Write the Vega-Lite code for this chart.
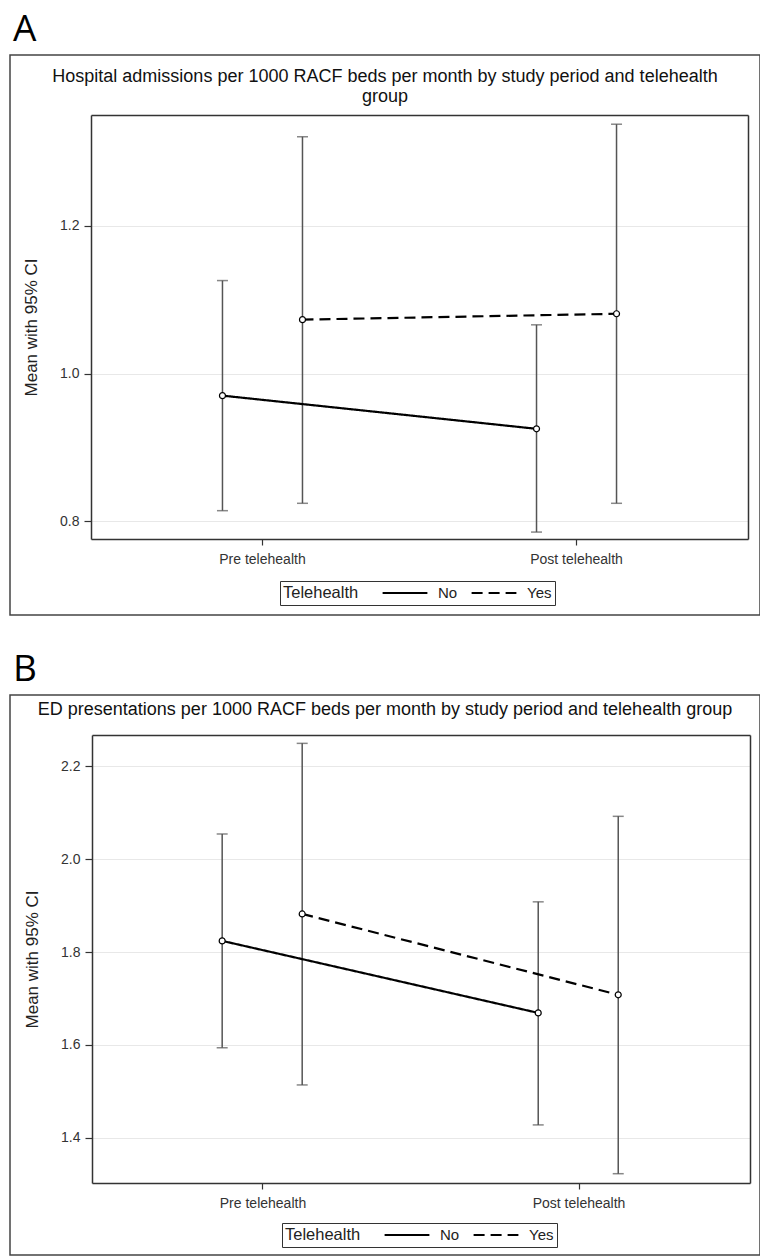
{
  "$schema": "https://vega.github.io/schema/vega-lite/v6.json",
  "padding": {"left": 9, "top": 11, "right": 0, "bottom": 0},
  "background": "white",
  "datasets": {
    "hosp": [
      {"period": "Pre telehealth", "group": "No", "mean": 0.970, "lower": 0.814, "upper": 1.126},
      {"period": "Pre telehealth", "group": "Yes", "mean": 1.073, "lower": 0.824, "upper": 1.321},
      {"period": "Post telehealth", "group": "No", "mean": 0.925, "lower": 0.785, "upper": 1.066},
      {"period": "Post telehealth", "group": "Yes", "mean": 1.081, "lower": 0.824, "upper": 1.338}
    ],
    "ed": [
      {"period": "Pre telehealth", "group": "No", "mean": 1.824, "lower": 1.594, "upper": 2.054},
      {"period": "Pre telehealth", "group": "Yes", "mean": 1.882, "lower": 1.514, "upper": 2.249},
      {"period": "Post telehealth", "group": "No", "mean": 1.669, "lower": 1.428, "upper": 1.908},
      {"period": "Post telehealth", "group": "Yes", "mean": 1.708, "lower": 1.323, "upper": 2.092}
    ]
  },
  "spacing": 35,
  "resolve": {"scale": {"strokeDash": "independent"}, "legend": {"strokeDash": "independent"}},
  "vconcat": [
    {
      "title": {"text": "A", "anchor": "start", "fontSize": 37, "font": "Open Sans", "fontWeight": "normal", "offset": 5, "dx": 3, "color": "black", "frame": "group"},
      "vconcat": [
        {
          "width": 750,
          "height": 560,
          "data": {"name": "hosp"},
          "title": {"text": ["Hospital admissions per 1000 RACF beds per month by study period and telehealth", "group"], "fontSize": 18, "fontWeight": "normal", "lineHeight": 20, "offset": -51, "anchor": "middle", "frame": "group", "color": "#111"},
          "layer": [
            {
              "mark": {"type": "rule", "color": "#555", "strokeWidth": 1.5},
              "encoding": {
                "x": {"field": "period", "type": "nominal", "sort": ["Pre telehealth", "Post telehealth"],
                      "scale": {"range": [81, 738], "paddingInner": 0.2, "paddingOuter": 0.146},
                      "axis": {"orient": "bottom", "offset": -76, "title": null, "labelAngle": 0, "tickSize": 6, "labelPadding": 7, "grid": false}},
                "xOffset": {"field": "group", "type": "nominal", "sort": ["No", "Yes"], "scale": {"paddingInner": 0, "paddingOuter": 0.57}},
                "y": {"field": "lower", "type": "quantitative",
                      "scale": {"domain": [0.7756, 1.3505], "range": [484, 60], "zero": false, "nice": false},
                      "axis": {"orient": "left", "offset": -81, "title": "Mean with 95% CI", "values": [0.8, 1.0, 1.2], "format": ".1f", "grid": true, "tickSize": 7, "labelPadding": 5, "titlePadding": 19}},
                "y2": {"field": "upper"}
              }
            },
            {
              "mark": {"type": "tick", "orient": "horizontal", "color": "#555", "size": 11, "thickness": 1.5},
              "encoding": {
                "x": {"field": "period", "type": "nominal", "sort": ["Pre telehealth", "Post telehealth"],
                      "axis": {"orient": "top", "offset": -60, "title": null, "ticks": false, "labels": false, "grid": false, "domain": true}},
                "xOffset": {"field": "group", "type": "nominal", "sort": ["No", "Yes"]},
                "y": {"field": "lower", "type": "quantitative",
                      "axis": {"orient": "right", "offset": -12, "title": null, "ticks": false, "labels": false, "grid": false, "domain": true}}
              }
            },
            {
              "mark": {"type": "tick", "orient": "horizontal", "color": "#555", "size": 11, "thickness": 1.5},
              "encoding": {
                "x": {"field": "period", "type": "nominal", "sort": ["Pre telehealth", "Post telehealth"], "axis": null},
                "xOffset": {"field": "group", "type": "nominal", "sort": ["No", "Yes"]},
                "y": {"field": "upper", "type": "quantitative", "axis": null}
              }
            },
            {
              "mark": {"type": "line", "color": "black", "strokeWidth": 2.2},
              "encoding": {
                "x": {"field": "period", "type": "nominal", "sort": ["Pre telehealth", "Post telehealth"], "axis": null},
                "xOffset": {"field": "group", "type": "nominal", "sort": ["No", "Yes"]},
                "y": {"field": "mean", "type": "quantitative", "axis": null},
                "strokeDash": {"field": "group", "type": "nominal", "scale": {"domain": ["No", "Yes"], "range": [[1, 0], [11, 6]]},
                  "legend": {"title": "Telehealth", "orient": "none", "legendX": 270, "legendY": 526, "direction": "horizontal", "titleOrient": "left", "strokeColor": "#333", "padding": 3, "symbolType": "M-2.8,0H2.8", "symbolSize": 256, "symbolStrokeWidth": 2, "symbolStrokeColor": "black", "symbolFillColor": "transparent", "labelFontSize": 15, "titleFontSize": 16.5, "titleFontWeight": "normal", "labelOffset": 24, "columnPadding": 9, "titlePadding": 37, "labelColor": "#222", "titleColor": "#222"}}
              }
            },
            {
              "mark": {"type": "circle", "fill": "white", "stroke": "black", "strokeWidth": 1.2, "size": 36, "opacity": 1},
              "encoding": {
                "x": {"field": "period", "type": "nominal", "sort": ["Pre telehealth", "Post telehealth"], "axis": null},
                "xOffset": {"field": "group", "type": "nominal", "sort": ["No", "Yes"]},
                "y": {"field": "mean", "type": "quantitative", "axis": null}
              }
            }
          ],
          "resolve": {"axis": {"x": "independent", "y": "independent"}}
        }
      ]
    },
    {
      "title": {"text": "B", "anchor": "start", "fontSize": 37, "font": "Open Sans", "fontWeight": "normal", "offset": 5, "dx": 3, "color": "black", "frame": "group"},
      "vconcat": [
        {
          "width": 750,
          "height": 560,
          "data": {"name": "ed"},
          "title": {"text": "ED presentations per 1000 RACF beds per month by study period and telehealth group", "fontSize": 18, "fontWeight": "normal", "offset": -24, "anchor": "middle", "frame": "group", "color": "#111"},
          "layer": [
            {
              "mark": {"type": "rule", "color": "#555", "strokeWidth": 1.5},
              "encoding": {
                "x": {"field": "period", "type": "nominal", "sort": ["Pre telehealth", "Post telehealth"],
                      "scale": {"range": [82, 740], "paddingInner": 0.2, "paddingOuter": 0.141},
                      "axis": {"orient": "bottom", "offset": -72, "title": null, "labelAngle": 0, "tickSize": 6, "labelPadding": 7, "grid": false}},
                "xOffset": {"field": "group", "type": "nominal", "sort": ["No", "Yes"], "scale": {"paddingInner": 0, "paddingOuter": 0.58}},
                "y": {"field": "lower", "type": "quantitative",
                      "scale": {"domain": [1.303, 2.267], "range": [488, 40], "zero": false, "nice": false},
                      "axis": {"orient": "left", "offset": -82, "title": "Mean with 95% CI", "values": [1.4, 1.6, 1.8, 2.0, 2.2], "format": ".1f", "grid": true, "tickSize": 7, "labelPadding": 5, "titlePadding": 19}},
                "y2": {"field": "upper"}
              }
            },
            {
              "mark": {"type": "tick", "orient": "horizontal", "color": "#555", "size": 11, "thickness": 1.5},
              "encoding": {
                "x": {"field": "period", "type": "nominal", "sort": ["Pre telehealth", "Post telehealth"],
                      "axis": {"orient": "top", "offset": -40, "title": null, "ticks": false, "labels": false, "grid": false, "domain": true}},
                "xOffset": {"field": "group", "type": "nominal", "sort": ["No", "Yes"]},
                "y": {"field": "lower", "type": "quantitative",
                      "axis": {"orient": "right", "offset": -10, "title": null, "ticks": false, "labels": false, "grid": false, "domain": true}}
              }
            },
            {
              "mark": {"type": "tick", "orient": "horizontal", "color": "#555", "size": 11, "thickness": 1.5},
              "encoding": {
                "x": {"field": "period", "type": "nominal", "sort": ["Pre telehealth", "Post telehealth"], "axis": null},
                "xOffset": {"field": "group", "type": "nominal", "sort": ["No", "Yes"]},
                "y": {"field": "upper", "type": "quantitative", "axis": null}
              }
            },
            {
              "mark": {"type": "line", "color": "black", "strokeWidth": 2.2},
              "encoding": {
                "x": {"field": "period", "type": "nominal", "sort": ["Pre telehealth", "Post telehealth"], "axis": null},
                "xOffset": {"field": "group", "type": "nominal", "sort": ["No", "Yes"]},
                "y": {"field": "mean", "type": "quantitative", "axis": null},
                "strokeDash": {"field": "group", "type": "nominal", "scale": {"domain": ["No", "Yes"], "range": [[1, 0], [11, 6]]},
                  "legend": {"title": "Telehealth", "orient": "none", "legendX": 272, "legendY": 528, "direction": "horizontal", "titleOrient": "left", "strokeColor": "#333", "padding": 3, "symbolType": "M-2.8,0H2.8", "symbolSize": 256, "symbolStrokeWidth": 2, "symbolStrokeColor": "black", "symbolFillColor": "transparent", "labelFontSize": 15, "titleFontSize": 16.5, "titleFontWeight": "normal", "labelOffset": 24, "columnPadding": 9, "titlePadding": 37, "labelColor": "#222", "titleColor": "#222"}}
              }
            },
            {
              "mark": {"type": "circle", "fill": "white", "stroke": "black", "strokeWidth": 1.2, "size": 36, "opacity": 1},
              "encoding": {
                "x": {"field": "period", "type": "nominal", "sort": ["Pre telehealth", "Post telehealth"], "axis": null},
                "xOffset": {"field": "group", "type": "nominal", "sort": ["No", "Yes"]},
                "y": {"field": "mean", "type": "quantitative", "axis": null}
              }
            }
          ],
          "resolve": {"axis": {"x": "independent", "y": "independent"}}
        }
      ]
    }
  ],
  "config": {
    "font": "Liberation Sans",
    "view": {"stroke": "#444", "strokeWidth": 1.5},
    "axis": {"labelFontSize": 14, "titleFontSize": 17, "titleFontWeight": "normal", "labelColor": "#333", "titleColor": "#222", "domainColor": "#333", "tickColor": "#333", "domainWidth": 1.5, "tickWidth": 1.2, "gridColor": "#e8e8e8", "gridWidth": 1}
  }
}
